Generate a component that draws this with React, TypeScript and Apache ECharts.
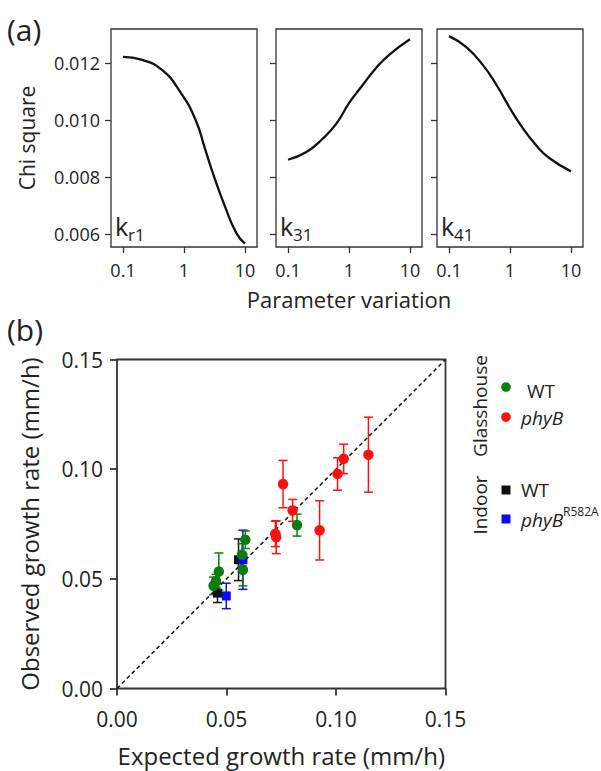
import React, { useEffect, useRef } from "react";
import * as echarts from "echarts";

// ---------- Panel (a) data ----------
const kr1X = [0.1, 0.2, 0.43, 0.86, 1.55, 2.2, 3.13, 4.69, 7.3, 10];
const kr1Y = [0.01223, 0.01213, 0.01178, 0.01101, 0.01001, 0.00901, 0.008, 0.00697, 0.00601, 0.00566];

const k31X = [0.1, 0.2, 0.37, 0.62, 1, 1.68, 2.78, 4.6, 10];
const k31Y = [0.00861, 0.00888, 0.00935, 0.00988, 0.0106, 0.01124, 0.01184, 0.01231, 0.01285];

const k41X = [0.1, 0.19, 0.36, 0.6, 1, 1.62, 2.66, 4.4, 10];
const k41Y = [0.01296, 0.01258, 0.01194, 0.01124, 0.01042, 0.00972, 0.00913, 0.00867, 0.0082];

const paramTicks = [0.1, 1, 10];
const chiTicks = [0.006, 0.008, 0.01, 0.012];
const panelLabels = [
  { base: "k", sub: "r1" },
  { base: "k", sub: "31" },
  { base: "k", sub: "41" },
];

// ---------- Panel (b) data: [expected, observed, error] ----------
const glassWT = [
  [0.0441, 0.0468, 0.004],
  [0.0452, 0.049, 0.003],
  [0.0465, 0.0533, 0.0085],
  [0.0571, 0.061, 0.005],
  [0.0575, 0.0541, 0.0073],
  [0.0586, 0.0678, 0.004],
  [0.0822, 0.0745, 0.005],
];
const glassPhyB = [
  [0.0758, 0.0932, 0.0108],
  [0.0802, 0.0812, 0.005],
  [0.0723, 0.0705, 0.0058],
  [0.0727, 0.069, 0.0075],
  [0.0925, 0.0721, 0.0135],
  [0.1007, 0.0978, 0.0074],
  [0.1035, 0.1047, 0.0067],
  [0.1148, 0.1066, 0.0171],
];
const indoorWT = [
  [0.0459, 0.0435, 0.0043],
  [0.0555, 0.0587, 0.0095],
];
const indoorR582A = [
  [0.0499, 0.0422, 0.0058],
  [0.0575, 0.0587, 0.0135],
];
const diagonal = [
  [0, 0],
  [0.15, 0.15],
];

const FONT = "'Open Sans'";
const GREEN = "#0e7c0e";
const RED = "#ff1010";
const BLUE = "#0a0aff";
const BLACK = "#111111";
const AXIS = "#333333";
const TEXT = "#222222";

function errorSeries(data: number[][], color: string) {
  return {
    type: "custom",
    xAxisIndex: 3,
    yAxisIndex: 3,
    data,
    encode: { x: 0, y: 1 },
    silent: true,
    renderItem: (_params: any, api: any) => {
      const x = api.value(0);
      const y = api.value(1);
      const e = api.value(2);
      const top = api.coord([x, y + e]);
      const bot = api.coord([x, y - e]);
      const h = 4.5;
      const style = { stroke: color, lineWidth: 1.5 };
      return {
        type: "group",
        children: [
          { type: "line", shape: { x1: top[0], y1: top[1], x2: bot[0], y2: bot[1] }, style },
          { type: "line", shape: { x1: top[0] - h, y1: top[1], x2: top[0] + h, y2: top[1] }, style },
          { type: "line", shape: { x1: bot[0] - h, y1: bot[1], x2: bot[0] + h, y2: bot[1] }, style },
        ],
      };
    },
  };
}

function pointSeries(data: number[][], color: string, symbol: string, size: number) {
  return {
    type: "scatter",
    xAxisIndex: 3,
    yAxisIndex: 3,
    data: data.map((d) => [d[0], d[1]]),
    symbol,
    symbolSize: size,
    itemStyle: { color, opacity: 1 },
  };
}

export default function App() {
  const ref = useRef<HTMLDivElement>(null);

  useEffect(() => {
    if (!ref.current) return;
    const chart = echarts.init(ref.current, null, { renderer: "svg" });

    const gridA = [111, 276, 437];
    const grids: any[] = gridA.map((left) => ({
      left,
      top: 29,
      width: 146,
      height: 218,
      show: true,
      borderColor: AXIS,
      borderWidth: 1.3,
      backgroundColor: "transparent",
    }));
    grids.push({
      left: 117,
      top: 359.5,
      width: 328.5,
      height: 329,
      show: true,
      borderColor: AXIS,
      borderWidth: 1.8,
      backgroundColor: "transparent",
    });

    const xAxes: any[] = gridA.map((_, i) => ({
      type: "log",
      logBase: 10,
      gridIndex: i,
      min: 0.0635,
      max: 15.74,
      axisLine: { show: false },
      splitLine: { show: false },
      axisTick: { show: true, length: 6, customValues: paramTicks, lineStyle: { color: AXIS, width: 1.3 } },
      axisLabel: {
        customValues: paramTicks,
        formatter: (v: number) => (v < 0.5 ? "0.1" : String(Math.round(v))),
        fontFamily: FONT,
        fontSize: 18,
        color: TEXT,
        margin: 14,
      },
      name: i === 1 ? "Parameter variation" : "",
      nameLocation: "middle",
      nameGap: 41,
      nameTextStyle: { fontFamily: FONT, fontSize: 22, color: TEXT },
    }));
    xAxes.push({
      type: "value",
      gridIndex: 3,
      min: 0,
      max: 0.15,
      interval: 0.05,
      axisLine: { show: false },
      splitLine: { show: false },
      axisTick: { show: true, length: 7, lineStyle: { color: AXIS, width: 1.8 } },
      axisLabel: {
        formatter: (v: number) => v.toFixed(2),
        fontFamily: FONT,
        fontSize: 21,
        color: TEXT,
        margin: 20,
      },
      name: "Expected growth rate (mm/h)",
      nameLocation: "middle",
      nameGap: 55,
      nameTextStyle: { fontFamily: FONT, fontSize: 24, color: TEXT },
    });

    const yAxes: any[] = gridA.map((_, i) => ({
      type: "value",
      gridIndex: i,
      min: 0.00554,
      max: 0.01321,
      axisLine: { show: false },
      splitLine: { show: false },
      axisTick: { show: true, length: 6, customValues: chiTicks, lineStyle: { color: AXIS, width: 1.3 } },
      axisLabel: {
        show: i === 0,
        customValues: chiTicks,
        formatter: (v: number) => v.toFixed(3),
        fontFamily: FONT,
        fontSize: 18,
        color: TEXT,
        margin: 11,
      },
      name: i === 0 ? "Chi square" : "",
      nameLocation: "middle",
      nameGap: 74,
      nameTextStyle: { fontFamily: FONT, fontSize: 21, color: TEXT },
    }));
    yAxes.push({
      type: "value",
      gridIndex: 3,
      min: 0,
      max: 0.15,
      interval: 0.05,
      axisLine: { show: false },
      splitLine: { show: false },
      axisTick: { show: true, length: 7, lineStyle: { color: AXIS, width: 1.8 } },
      axisLabel: {
        formatter: (v: number) => v.toFixed(2),
        fontFamily: FONT,
        fontSize: 21,
        color: TEXT,
        margin: 14,
      },
      name: "Observed growth rate (mm/h)",
      nameLocation: "middle",
      nameGap: 76,
      nameTextStyle: { fontFamily: FONT, fontSize: 24, color: TEXT },
    });

    const curves = [
      [kr1X, kr1Y],
      [k31X, k31Y],
      [k41X, k41Y],
    ];
    const series: any[] = curves.map(([xs, ys], i) => ({
      type: "line",
      xAxisIndex: i,
      yAxisIndex: i,
      data: xs.map((x, j) => [x, ys[j]]),
      smooth: 0.5,
      symbol: "none",
      lineStyle: { color: BLACK, width: 2.3 },
    }));

    series.push({
      type: "line",
      xAxisIndex: 3,
      yAxisIndex: 3,
      data: diagonal,
      symbol: "none",
      lineStyle: { color: BLACK, width: 1.5, type: [4, 3] },
      z: 1,
    });
    series.push(errorSeries(indoorWT, BLACK));
    series.push(pointSeries(indoorWT, BLACK, "rect", 9));
    series.push(errorSeries(indoorR582A, BLUE));
    series.push(pointSeries(indoorR582A, BLUE, "rect", 9));
    series.push(errorSeries(glassPhyB, RED));
    series.push(pointSeries(glassPhyB, RED, "circle", 10.5));
    series.push(errorSeries(glassWT, GREEN));
    series.push(pointSeries(glassWT, GREEN, "circle", 10.5));

    const graphics: any[] = [
      { type: "text", x: 7, y: 29, style: { text: "(a)", fontFamily: FONT, fontSize: 30, fill: TEXT, verticalAlign: "middle" } },
      { type: "text", x: 7, y: 329, style: { text: "(b)", fontFamily: FONT, fontSize: 30, fill: TEXT, verticalAlign: "middle" } },
    ];
    gridA.forEach((left, i) => {
      graphics.push({
        type: "text",
        x: left + 4,
        y: 226,
        style: { text: panelLabels[i].base, fontFamily: FONT, fontSize: 25, fill: TEXT, verticalAlign: "middle" },
      });
      graphics.push({
        type: "text",
        x: left + 17,
        y: 234,
        style: { text: panelLabels[i].sub, fontFamily: FONT, fontSize: 17, fill: TEXT, verticalAlign: "middle" },
      });
    });
    const lf = { fontFamily: FONT, fontSize: 19, fill: TEXT, verticalAlign: "middle" };
    graphics.push(
      { type: "text", x: 480, y: 406, rotation: Math.PI / 2, style: { ...lf, text: "Glasshouse", align: "center" } },
      { type: "text", x: 480, y: 505, rotation: Math.PI / 2, style: { ...lf, text: "Indoor", align: "center" } },
      { type: "circle", shape: { cx: 506, cy: 387, r: 4.8 }, style: { fill: GREEN } },
      { type: "text", x: 527, y: 391, style: { ...lf, text: "WT" } },
      { type: "circle", shape: { cx: 506, cy: 417, r: 4.8 }, style: { fill: RED } },
      { type: "text", x: 521, y: 418, style: { ...lf, text: "phyB", fontStyle: "italic" } },
      { type: "rect", shape: { x: 501.5, y: 485.5, width: 9, height: 9 }, style: { fill: BLACK } },
      { type: "text", x: 521, y: 490, style: { ...lf, text: "WT" } },
      { type: "rect", shape: { x: 501.5, y: 514.5, width: 9, height: 9 }, style: { fill: BLUE } },
      { type: "text", x: 521, y: 520, style: { ...lf, text: "phyB", fontStyle: "italic" } },
      { type: "text", x: 563, y: 511, style: { ...lf, text: "R582A", fontSize: 12 } }
    );

    chart.setOption({
      animation: false,
      backgroundColor: "#ffffff",
      grid: grids,
      xAxis: xAxes,
      yAxis: yAxes,
      series,
      graphic: graphics,
    });

    return () => chart.dispose();
  }, []);

  return <div ref={ref} style={{ position: "absolute", left: 0, top: 0, width: 601, height: 771 }} />;
}
